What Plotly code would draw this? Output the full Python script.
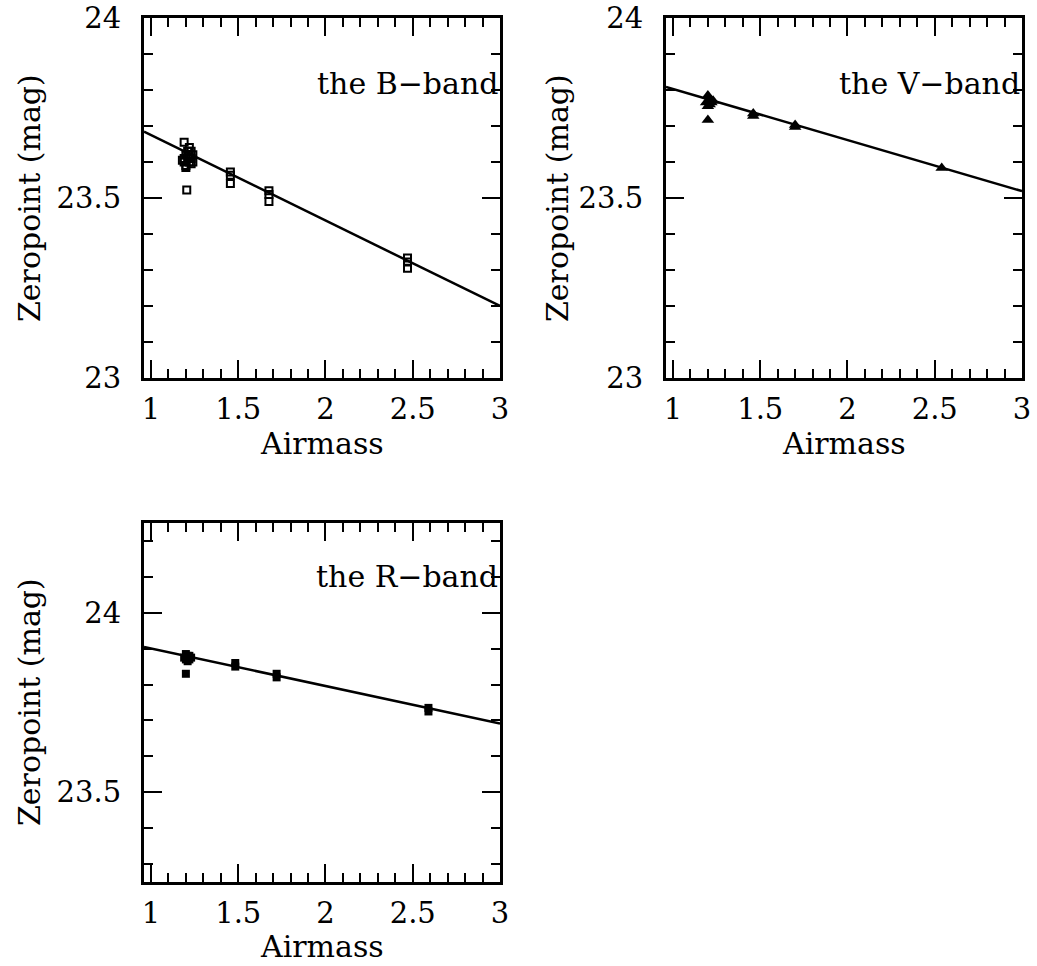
import plotly.graph_objects as go

# ---------------- data ----------------
b_airmass = [1.19, 1.19, 1.20, 1.20, 1.21, 1.21, 1.22, 1.22, 1.23, 1.23, 1.24, 1.24,
             1.19, 1.205, 1.20, 1.18, 1.23, 1.22,
             1.455, 1.455, 1.455,
             1.676, 1.676, 1.676,
             2.47, 2.47, 2.47]
b_zp = [23.61, 23.60, 23.62, 23.59, 23.61, 23.63, 23.60, 23.62, 23.61, 23.63, 23.60, 23.62,
        23.655, 23.522, 23.585, 23.605, 23.595, 23.64,
        23.572, 23.563, 23.540,
        23.520, 23.510, 23.490,
        23.333, 23.322, 23.305]

v_airmass = [1.19, 1.20, 1.21, 1.22, 1.23, 1.20, 1.21, 1.22, 1.20,
             1.46, 1.46, 1.70, 1.70, 2.54]
v_zp = [23.765, 23.785, 23.775, 23.765, 23.770, 23.755, 23.760, 23.770, 23.717,
        23.735, 23.728, 23.703, 23.697, 23.583]

r_airmass = [1.19, 1.20, 1.21, 1.22, 1.23, 1.21, 1.20, 1.22, 1.20,
             1.483, 1.483, 1.72, 1.72, 2.59, 2.59]
r_zp = [23.875, 23.885, 23.880, 23.870, 23.875, 23.865, 23.870, 23.880, 23.830,
        23.860, 23.850, 23.830, 23.820, 23.735, 23.725]

# linear fits: zeropoint = intercept + slope * airmass
b_fit = (23.9125, -0.2375)
v_fit = (23.945, -0.142)
r_fit = (24.005, -0.1045)

x_range = [0.96, 3.0]
fit_x = x_range

FONT = "DejaVu Serif"
BLACK = "black"

fig = go.Figure()

def fit_line(fit, xa, ya):
    return go.Scatter(x=fit_x, y=[fit[0] + fit[1] * v for v in fit_x], mode="lines",
                      line=dict(color=BLACK, width=2.5), xaxis=xa, yaxis=ya,
                      showlegend=False, hoverinfo="skip", cliponaxis=True)

fig.add_trace(go.Scatter(x=b_airmass, y=b_zp, mode="markers", xaxis="x", yaxis="y",
                         marker=dict(symbol="square-open", size=7, color=BLACK,
                                     line=dict(color=BLACK, width=2)), showlegend=False))
fig.add_trace(fit_line(b_fit, "x", "y"))

fig.add_trace(go.Scatter(x=v_airmass, y=v_zp, mode="markers", xaxis="x2", yaxis="y2",
                         marker=dict(symbol="triangle-up", size=11, color=BLACK,
                                     line=dict(width=0)), showlegend=False))
fig.add_trace(fit_line(v_fit, "x2", "y2"))

fig.add_trace(go.Scatter(x=r_airmass, y=r_zp, mode="markers", xaxis="x3", yaxis="y3",
                         marker=dict(symbol="square", size=8, color=BLACK,
                                     line=dict(width=0)), showlegend=False))
fig.add_trace(fit_line(r_fit, "x3", "y3"))

W, H = 1037, 966

def xd(a, b):
    return [a / W, b / W]

def yd(top, bottom):
    return [1 - bottom / H, 1 - top / H]

tickfont = dict(family=FONT, size=29, color=BLACK)

def xaxis(domain, anchor):
    return dict(domain=domain, anchor=anchor, range=x_range, tickmode="array",
                tickvals=[1, 1.5, 2, 2.5, 3], ticktext=["1", "1.5", "2", "2.5", "3"],
                ticks="inside", ticklen=18, tickwidth=2, tickcolor=BLACK,
                minor=dict(dtick=0.1, tick0=0, ticks="inside", ticklen=9, tickwidth=2,
                           tickcolor=BLACK, showgrid=False),
                showline=True, linewidth=3, linecolor=BLACK, mirror="allticks",
                showgrid=False, zeroline=False, tickfont=tickfont,
                ticklabelstandoff=3, automargin=False)

def yaxis(domain, anchor, rng, tv, tt):
    return dict(domain=domain, anchor=anchor, range=rng, tickmode="array",
                tickvals=tv, ticktext=tt,
                ticks="inside", ticklen=18, tickwidth=2, tickcolor=BLACK,
                minor=dict(dtick=0.1, tick0=0, ticks="inside", ticklen=9, tickwidth=2,
                           tickcolor=BLACK, showgrid=False),
                showline=True, linewidth=3, linecolor=BLACK, mirror="allticks",
                showgrid=False, zeroline=False, tickfont=tickfont,
                ticklabelstandoff=14, automargin=False)

fig.update_layout(
    template="none",
    width=W, height=H, margin=dict(l=0, r=0, t=0, b=0, autoexpand=False),
    paper_bgcolor="white", plot_bgcolor="white", showlegend=False,
    xaxis=xaxis(xd(144, 500), "y"),
    yaxis=yaxis(yd(18, 378), "x", [23, 24], [23, 23.5, 24], ["23", "23.5", "24"]),
    xaxis2=xaxis(xd(666, 1022), "y2"),
    yaxis2=yaxis(yd(18, 378), "x2", [23, 24], [23, 23.5, 24], ["23", "23.5", "24"]),
    xaxis3=xaxis(xd(144, 500), "y3"),
    yaxis3=yaxis(yd(523, 882), "x3", [23.25, 24.25], [23.5, 24], ["23.5", "24"]),
)

tfont = dict(family=FONT, size=30, color=BLACK)
ann = []
# axis titles
for cx, cy in [(322, 443), (844, 443), (322, 946)]:
    ann.append(dict(text="Airmass", x=cx / W, y=1 - cy / H, xref="paper", yref="paper",
                    showarrow=False, font=tfont, xanchor="center", yanchor="middle"))
for cx, cy in [(29, 198), (557, 198), (29, 702)]:
    ann.append(dict(text="Zeropoint (mag)", x=cx / W, y=1 - cy / H, xref="paper",
                    yref="paper", showarrow=False, font=tfont, textangle=-90,
                    xanchor="center", yanchor="middle"))
# band labels
for label, rx, cy in [("the B\u2212band", 500, 84), ("the V\u2212band", 1022, 84),
                      ("the R\u2212band", 500, 576)]:
    ann.append(dict(text=label, x=rx / W, y=1 - cy / H, xref="paper", yref="paper",
                    showarrow=False, font=dict(family=FONT, size=30, color=BLACK),
                    xanchor="right", yanchor="middle"))
fig.update_layout(annotations=ann)

fig.write_html("out.html")
